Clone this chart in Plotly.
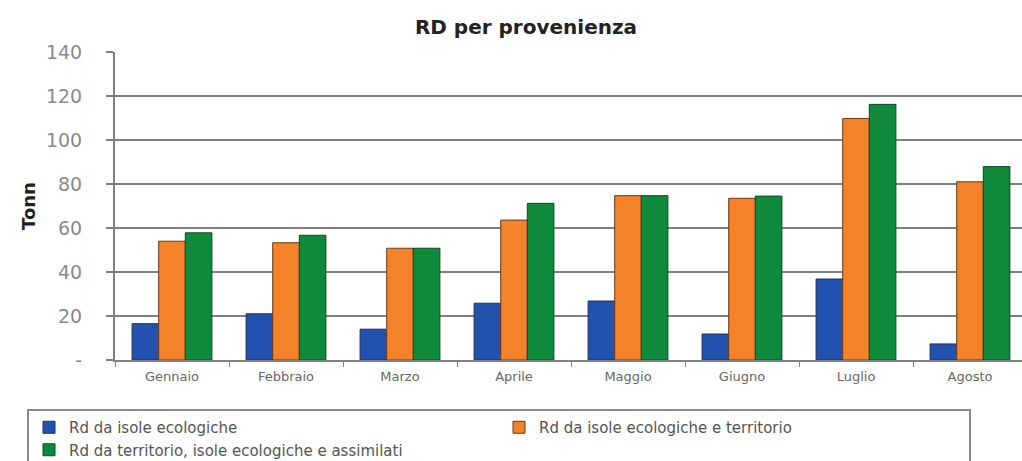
import plotly.graph_objects as go

# Monthly separate-collection tonnage by source
mesi = ["Gennaio", "Febbraio", "Marzo", "Aprile", "Maggio", "Giugno", "Luglio", "Agosto"]
isole_ecologiche = [16.5, 21, 14, 25.8, 26.8, 11.8, 36.8, 7.3]
isole_e_territorio = [54, 53.3, 50.8, 63.6, 74.7, 73.5, 109.8, 81]
territorio_isole_assimilati = [57.8, 56.7, 50.8, 71.2, 74.7, 74.5, 116.2, 87.9]

serie_nomi = [
    "Rd da isole ecologiche",
    "Rd da isole ecologiche e territorio",
    "Rd da territorio, isole ecologiche e assimilati",
]

y_tickvals = [0, 20, 40, 60, 80, 100, 120, 140]
y_ticktext = ["-", "20", "40", "60", "80", "100", "120", "140"]

colori = ["#2352AE", "#F3822B", "#0F8A3C"]
bordi = ["#1A2E6A", "#6B3A17", "#0B4A22"]

W, H = 1022, 461
M_L, M_R, M_T, M_B = 115, 0, 52, 101
plot_w = W - M_L - M_R
plot_h = H - M_T - M_B

fig = go.Figure()
for nome, valori, col, bordo in zip(
    serie_nomi,
    [isole_ecologiche, isole_e_territorio, territorio_isole_assimilati],
    colori,
    bordi,
):
    fig.add_trace(
        go.Bar(
            x=mesi,
            y=valori,
            name=nome,
            marker=dict(color=col, line=dict(color=bordo, width=1)),
        )
    )

fig.update_layout(
    width=W,
    height=H,
    margin=dict(l=M_L, r=M_R, t=M_T, b=M_B, autoexpand=False),
    paper_bgcolor="white",
    plot_bgcolor="white",
    barmode="group",
    bargap=0.3,
    bargroupgap=0,
    title=dict(
        text="<b>RD per provenienza</b>",
        x=526 / W,
        xref="container",
        xanchor="center",
        y=1 - 27 / H,
        yref="container",
        yanchor="middle",
        font=dict(family="DejaVu Sans", size=20, color="#222222"),
    ),
    font=dict(family="DejaVu Sans"),
    showlegend=True,
    # legend anchored in the left margin below the plot, two entries per row
    legend=dict(
        orientation="h",
        xref="paper",
        yref="paper",
        x=(27 - M_L) / plot_w,
        xanchor="left",
        y=(H - M_B - 409) / plot_h,
        yanchor="top",
        entrywidth=425,
        entrywidthmode="pixels",
        bordercolor="#8a8a8a",
        borderwidth=2,
        bgcolor="white",
        font=dict(family="DejaVu Sans", size=15, color="#555555"),
        itemwidth=30,
        tracegroupgap=0,
    ),
)

fig.update_yaxes(
    range=[0, 140],
    tickvals=y_tickvals,
    ticktext=y_ticktext,
    showgrid=True,
    gridcolor="#808080",
    gridwidth=2,
    showline=True,
    linecolor="#808080",
    linewidth=2,
    ticks="outside",
    ticklen=7,
    tickcolor="#808080",
    tickwidth=2,
    ticklabelstandoff=20,
    tickfont=dict(family="DejaVu Sans", size=19, color="#8a8a8a"),
    zeroline=False,
    title=dict(
        text="<b>Tonn</b>",
        font=dict(family="DejaVu Sans", size=18, color="#222222"),
        standoff=6,
    ),
    automargin=False,
)

fig.update_xaxes(
    range=[-0.5, 7.5 - 5 / 114],
    showgrid=False,
    showline=True,
    linecolor="#808080",
    linewidth=2,
    ticks="outside",
    tickson="boundaries",
    ticklen=5,
    tickcolor="#808080",
    tickwidth=1,
    tickfont=dict(family="DejaVu Sans", size=13, color="#666666"),
    ticklabelstandoff=3,
    automargin=False,
)

fig.write_html("out.html")
